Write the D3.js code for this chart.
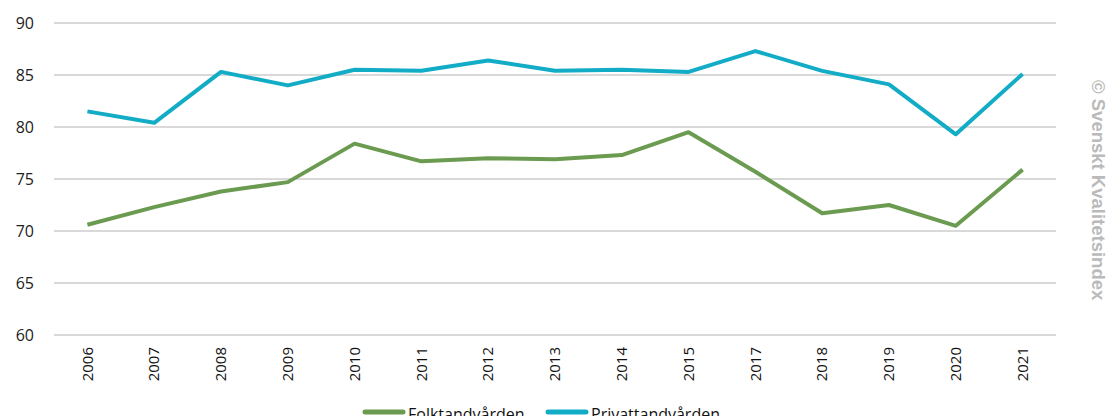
<!DOCTYPE html>
<html>
<head>
<meta charset="utf-8">
<script src="https://cdn.jsdelivr.net/npm/d3@7"></script>
<style>
  body { margin: 0; background: #fff; overflow: hidden; }
  text { font-family: "Open Sans", "Liberation Sans", sans-serif; }
</style>
</head>
<body>
<script>
// data
let years = ["2006", "2007", "2008", "2009", "2010", "2011", "2012", "2013", "2014", "2015", "2017", "2018", "2019", "2020", "2021"]
let folktandvarden = [70.6, 72.3, 73.8, 74.7, 78.4, 76.7, 77.0, 76.9, 77.3, 79.5, 75.7, 71.7, 72.5, 70.5, 75.9]
let privattandvarden = [81.5, 80.4, 85.3, 84.0, 85.5, 85.4, 86.4, 85.4, 85.5, 85.3, 87.3, 85.4, 84.1, 79.3, 85.1]
let yTicks = [60, 65, 70, 75, 80, 85, 90]
let seriesNames = ["Folktandvården", "Privattandvården"]

let width = 1110, height = 416
let colors = ["#6b9b50", "#12acc7"]

let svg = d3.select("body").append("svg")
    .attr("width", width)
    .attr("height", height)

let x = d3.scaleBand()
  .domain(years)
  .range([54, 1056])

let y = d3.scaleLinear()
  .domain([60, 90])
  .range([335, 23])

// gridlines
svg.append("g")
  .selectAll("line")
  .data(yTicks)
  .enter()
  .append("line")
  .attr("x1", 54)
  .attr("x2", 1056)
  .attr("y1", d => y(d))
  .attr("y2", d => y(d))
  .attr("stroke", "#d9d9d9")
  .attr("stroke-width", 2)

// y axis labels
let yAxis = svg.append("g")
  .attr("transform", "translate(34,0)")
  .call(d3.axisLeft(y).tickValues(yTicks).tickSize(0).tickPadding(0))
yAxis.select(".domain").remove()
yAxis.selectAll("text")
  .attr("font-size", 16)
  .attr("fill", "#222")
  .style("font-family", "Open Sans, sans-serif")

// x axis labels, rotated
let xAxis = svg.append("g")
  .attr("transform", "translate(0,347)")
  .call(d3.axisBottom(x).tickSize(0).tickPadding(0))
xAxis.select(".domain").remove()
xAxis.selectAll("text")
  .attr("font-size", 15)
  .attr("fill", "#111")
  .attr("transform", "rotate(-90)")
  .attr("text-anchor", "end")
  .attr("x", 0)
  .attr("y", 0)
  .attr("dy", "0.35em")
  .style("font-family", "Open Sans, sans-serif")

let line = d3.line()
  .x((d, i) => x(years[i]) + x.bandwidth() / 2)
  .y(d => y(d))

svg.append("path")
  .datum(folktandvarden)
  .attr("d", line)
  .attr("fill", "none")
  .attr("stroke", colors[0])
  .attr("stroke-width", 4)
  .attr("stroke-linejoin", "round")

svg.append("path")
  .datum(privattandvarden)
  .attr("d", line)
  .attr("fill", "none")
  .attr("stroke", colors[1])
  .attr("stroke-width", 4)
  .attr("stroke-linejoin", "round")

// legend (cut off at the bottom like the original)
let legendX = [365, 548]
let legend = svg.append("g")
  .selectAll("g")
  .data(seriesNames)
  .enter()
  .append("g")
  .attr("transform", (d, i) => `translate(${legendX[i]},412)`)
legend.append("line")
  .attr("x1", 0)
  .attr("x2", 38)
  .attr("stroke", (d, i) => colors[i])
  .attr("stroke-width", 5)
  .attr("stroke-linecap", "round")
legend.append("text")
  .attr("x", 43)
  .attr("y", 8)
  .attr("font-size", 16)
  .attr("fill", "#111")
  .text(d => d)

// watermark
svg.append("text")
  .attr("transform", "translate(1092,80) rotate(90)")
  .attr("font-size", 18.5)
  .attr("font-weight", 600)
  .attr("fill", "#bababa")
  .style("font-family", "Liberation Sans, Arial, sans-serif")
  .text("© Svenskt Kvalitetsindex")
</script>
</body>
</html>
